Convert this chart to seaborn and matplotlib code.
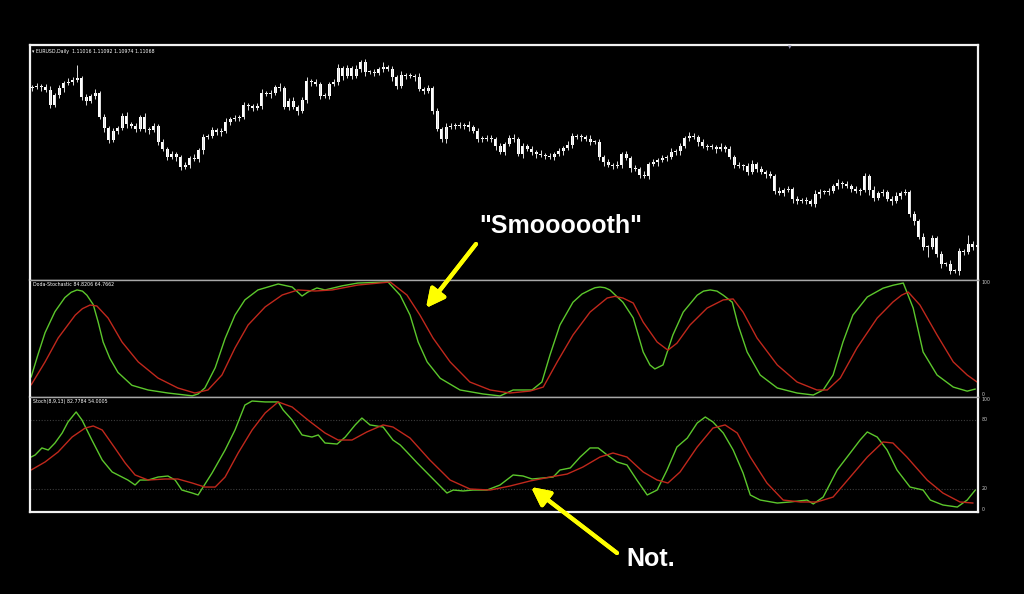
"""
EURUSD daily chart with Doda-Stochastic vs. classic Stochastic panels.
"""
import numpy as np
import pandas as pd
import matplotlib
matplotlib.use("Agg")
import matplotlib.pyplot as plt
import seaborn as sns

# --- price data (daily closes, open = previous close) ---
first_open = 1.1424
closes = [
    1.1426, 1.1428, 1.1426, 1.1420, 1.1390, 1.1410, 1.1424, 1.1434, 1.1436, 1.1440,
    1.1444, 1.1406, 1.1398, 1.1408, 1.1414, 1.1366, 1.1344, 1.1320, 1.1338, 1.1344,
    1.1368, 1.1352, 1.1348, 1.1342, 1.1366, 1.1342, 1.1340, 1.1348, 1.1316, 1.1302,
    1.1286, 1.1292, 1.1286, 1.1266, 1.1270, 1.1284, 1.1282, 1.1300, 1.1326, 1.1328,
    1.1340, 1.1336, 1.1338, 1.1356, 1.1362, 1.1364, 1.1366, 1.1390, 1.1388, 1.1384,
    1.1388, 1.1414, 1.1412, 1.1414, 1.1426, 1.1424, 1.1386, 1.1398, 1.1386, 1.1378,
    1.1400, 1.1438, 1.1436, 1.1432, 1.1408, 1.1408, 1.1432, 1.1436, 1.1464, 1.1448,
    1.1464, 1.1448, 1.1462, 1.1476, 1.1456, 1.1456, 1.1454, 1.1462, 1.1466, 1.1462,
    1.1446, 1.1428, 1.1450, 1.1448, 1.1448, 1.1446, 1.1422, 1.1418, 1.1424, 1.1378,
    1.1342, 1.1322, 1.1346, 1.1348, 1.1350, 1.1348, 1.1350, 1.1346, 1.1338, 1.1322,
    1.1324, 1.1322, 1.1322, 1.1308, 1.1296, 1.1312, 1.1324, 1.1322, 1.1292, 1.1308,
    1.1302, 1.1296, 1.1292, 1.1290, 1.1288, 1.1286, 1.1292, 1.1298, 1.1304, 1.1310,
    1.1328, 1.1326, 1.1326, 1.1322, 1.1316, 1.1316, 1.1286, 1.1276, 1.1270, 1.1268,
    1.1270, 1.1292, 1.1284, 1.1264, 1.1262, 1.1250, 1.1248, 1.1272, 1.1276, 1.1280,
    1.1284, 1.1286, 1.1296, 1.1298, 1.1308, 1.1324, 1.1328, 1.1326, 1.1316, 1.1308,
    1.1306, 1.1306, 1.1302, 1.1306, 1.1302, 1.1286, 1.1270, 1.1268, 1.1268, 1.1256,
    1.1272, 1.1262, 1.1256, 1.1252, 1.1248, 1.1218, 1.1214, 1.1220, 1.1222, 1.1202,
    1.1198, 1.1200, 1.1198, 1.1192, 1.1212, 1.1216, 1.1216, 1.1218, 1.1228, 1.1234,
    1.1232, 1.1228, 1.1222, 1.1218, 1.1220, 1.1248, 1.1220, 1.1204, 1.1214, 1.1216,
    1.1202, 1.1198, 1.1208, 1.1214, 1.1216, 1.1172, 1.1158, 1.1126, 1.1106, 1.1106,
    1.1124, 1.1092, 1.1072, 1.1072, 1.1058, 1.1058, 1.1098, 1.1096, 1.1112, 1.1106,
    1.1110,
]
# wick lengths in pips above / below the body
wick_up = [
    4, 6, 4, 6, 8, 4, 6, 4, 8, 6, 26, 4, 6, 4, 8, 4, 6, 4, 6, 4,
    6, 8, 4, 6, 4, 8, 4, 6, 4, 6, 4, 6, 4, 4, 6, 4, 8, 4, 6, 4,
    6, 4, 6, 8, 4, 6, 4, 6, 4, 4, 6, 8, 4, 6, 4, 8, 4, 6, 8, 4,
    6, 8, 4, 6, 4, 6, 4, 6, 8, 4, 6, 4, 8, 4, 6, 4, 6, 4, 10, 4,
    6, 4, 8, 4, 6, 4, 8, 4, 6, 4, 6, 4, 8, 6, 4, 6, 4, 8, 4, 6,
    4, 6, 8, 4, 6, 4, 6, 8, 4, 6, 4, 6, 4, 8, 4, 6, 4, 6, 4, 8,
    6, 4, 6, 4, 8, 4, 6, 4, 6, 4, 8, 4, 6, 4, 6, 4, 8, 4, 6, 4,
    6, 4, 8, 4, 6, 4, 8, 6, 4, 6, 4, 6, 4, 8, 4, 6, 4, 6, 4, 6,
    8, 4, 6, 4, 6, 4, 8, 4, 6, 4, 6, 4, 6, 4, 8, 6, 4, 6, 4, 8,
    4, 6, 4, 6, 4, 6, 4, 8, 4, 6, 4, 6, 8, 4, 6, 4, 6, 4, 8, 4,
    6, 4, 6, 4, 8, 4, 6, 4, 18, 6, 8,
]
wick_dn = [
    6, 4, 8, 4, 6, 4, 6, 8, 4, 6, 4, 6, 8, 4, 6, 4, 8, 6, 4, 6,
    4, 8, 4, 6, 4, 6, 8, 4, 6, 4, 6, 4, 8, 6, 4, 6, 4, 6, 8, 4,
    4, 6, 8, 4, 6, 4, 6, 4, 8, 6, 4, 6, 4, 8, 4, 6, 4, 6, 4, 8,
    4, 6, 8, 4, 6, 4, 6, 4, 6, 8, 4, 6, 4, 6, 8, 4, 6, 4, 6, 4,
    8, 6, 4, 6, 4, 8, 4, 6, 4, 6, 4, 6, 8, 4, 6, 4, 6, 8, 4, 6,
    6, 4, 6, 8, 4, 6, 4, 6, 4, 8, 4, 6, 8, 4, 6, 4, 6, 4, 8, 4,
    6, 4, 8, 4, 6, 4, 6, 8, 4, 6, 4, 6, 4, 8, 4, 6, 4, 6, 4, 8,
    4, 6, 4, 6, 8, 4, 6, 4, 8, 4, 6, 4, 8, 4, 6, 4, 6, 4, 8, 6,
    4, 6, 4, 8, 4, 6, 4, 6, 4, 8, 6, 4, 6, 4, 6, 8, 4, 6, 4, 6,
    8, 4, 6, 4, 8, 4, 10, 6, 4, 6, 4, 8, 4, 6, 4, 6, 8, 4, 6, 20,
    4, 6, 8, 4, 6, 4, 8, 6, 4, 6, 4,
]

# --- Doda-Stochastic (bar position, value) ---
doda_fast_bar = [
    -0.2, 1.3, 2.9, 5.1, 7.3, 8.7, 10.0, 11.2, 12.2, 13.6, 14.7, 15.8, 17.3, 19.1, 22.2, 25.8,
    30.2, 35.6, 36.9, 38.4, 40.7, 42.9, 45.1, 47.3, 50.2, 54.7, 57.8, 60.0, 61.3, 63.3, 65.1,
    68.9, 72.4, 79.1, 81.8, 84.0, 85.8, 87.8, 90.7, 95.1, 100.2, 104.0, 106.9, 111.1, 113.3,
    115.1, 117.3, 120.2, 122.2, 124.0, 125.1, 126.2, 127.3, 128.4, 131.3, 133.6, 135.8, 137.3,
    138.4, 140.2, 142.4, 144.7, 147.8, 149.2, 150.7, 152.2, 153.6, 155.6, 156.9, 158.9, 161.8,
    165.6, 170.0, 173.6, 175.8, 178.0, 180.2, 182.4, 185.6, 189.1, 191.3, 193.6, 195.8, 198.0,
    201.1, 204.7, 207.8, 209.6,
]
doda_fast = [
    17, 36, 55, 73, 85, 89.5, 91.5, 90.5, 87, 79, 64, 47, 33, 21, 10, 6,
    3.4, 1, 2.6, 7.7, 25, 50, 70, 83, 91.5, 96.6, 94, 86.3, 89.7, 93.2, 91.5,
    95, 97.4, 98.3, 87, 70, 47, 30, 16, 6, 2.6, 0.9, 6, 6, 12.8,
    36, 61.5, 81, 88, 91.5, 93.4, 94, 93.4, 91.5, 81, 67.5, 38.5, 27.4,
    24, 27.4, 53, 72.6, 87, 90.5, 91.5, 90.5, 87, 81, 61.5, 38.5, 18.8,
    7.7, 3.4, 1.7, 6, 18.8, 47, 70, 85.5, 93, 95.5, 97.4, 76, 38.5,
    18.8, 8.5, 5, 6.8,
]
doda_slow_bar = [
    -0.2, 2.9, 5.8, 9.6, 11.2, 12.9, 14.4, 16.9, 20.0, 23.6, 28.0, 32.4, 36.2, 39.1, 42.2, 45.1,
    48.0, 51.8, 55.6, 59.1, 62.9, 66.7, 72.4, 79.6, 83.3, 86.2, 89.1, 92.9, 97.3, 101.8, 106.2,
    110.7, 113.6, 116.7, 120.2, 124.0, 127.8, 129.5, 131.3, 133.6, 135.8, 138.9, 141.3, 143.3,
    146.2, 150.0, 153.6, 155.8, 158.0, 161.1, 165.6, 170.0, 174.4, 176.7, 179.6, 183.3, 187.8,
    191.3, 193.2, 194.7, 197.3, 201.1, 204.7, 207.8, 210.0,
]
doda_slow = [
    10.3, 30, 50.4, 70, 75.5, 78.6, 77.8, 67.5, 47, 30, 16.2, 7.7, 3.4, 6, 18.8, 41.9,
    61.5, 77, 87.2, 91.5, 90.6, 91.5, 95.7, 98.3, 87.2, 70, 50.4, 30, 12.8, 6, 3.4,
    5.1, 8.5, 30, 53, 72.6, 84.6, 86, 84.6, 80.3, 64, 47, 40, 46,
    61.5, 76, 83, 83.8, 72.6, 50.4, 27.4, 12.8, 6, 6, 16.2, 41.9, 67.5,
    81.2, 87, 89.7, 78.6, 53, 30, 18.8, 12.8,
]

# --- Stoch(8,9,13) (bar position, value) ---
stoch_main_bar = [
    -0.2, 0.7, 2.2, 3.6, 5.1, 6.7, 8.0, 9.8, 11.1, 13.3, 15.6, 17.8, 20.0, 21.3, 22.9, 24.0,
    25.8, 28.0, 30.2, 31.8, 33.3, 35.6, 36.9, 40.0, 42.9, 45.1, 47.3, 48.9, 51.8, 54.7, 55.8,
    57.8, 60.0, 62.2, 63.6, 65.1, 67.8, 69.6, 71.8, 73.3, 75.1, 78.0, 80.2, 81.8, 83.3, 85.6,
    87.8, 90.0, 92.2, 93.6, 95.8, 98.0, 101.1, 104.0, 106.9, 109.1, 111.1, 113.6, 115.8, 117.3,
    119.6, 121.8, 124.0, 125.8, 127.8, 130.0, 132.2, 134.4, 136.7, 138.9, 141.1, 143.3, 145.6,
    147.8, 149.6, 151.3, 153.6, 155.8, 158.0, 159.6, 161.8, 165.6, 168.4, 172.2, 173.6, 175.8,
    178.9, 181.8, 184.0, 185.6, 187.8, 190.0, 192.2, 195.1, 198.0, 199.6, 202.4, 205.6, 207.8,
    209.6,
]
stoch_main = [
    47.8, 49.6, 55.7, 53.9, 60, 68.7, 78.3, 87, 80, 62.6, 45.2, 34.8, 30.4, 27.8, 23.5, 27.8,
    27.8, 30.4, 31.3, 27.8, 19.1, 16.5, 14.8, 33.9, 53.9, 71.3, 93, 96.5, 95.7, 95.7, 88.7,
    80, 67, 65.2, 67, 60, 59.1, 65.2, 75.7, 81.7, 75.7, 73.9, 62.6, 58.3, 52.2, 42.6,
    33.9, 25.2, 16.5, 19.1, 18.3, 19.1, 19.1, 23.5, 32.2, 31.3, 28.7, 29.6, 30.4, 36.5,
    38.3, 47.8, 55.7, 55.7, 49.6, 43.5, 40.9, 27.8, 14.8, 19.1, 36.5, 56.5, 64.3,
    77.4, 82.6, 78.3, 68.7, 53.9, 33.9, 14.8, 10.4, 7.8, 8.7, 10.4, 7, 13,
    36.5, 51.3, 62.6, 69.6, 65.2, 53.9, 36.5, 21.7, 19.1, 10.4, 6.1, 4.3, 10.4,
    19.1,
]
stoch_signal_bar = [
    -0.2, 2.9, 5.8, 8.9, 11.8, 13.6, 15.6, 18.4, 20.7, 22.9, 25.8, 29.6, 32.4, 35.6, 38.4, 40.7,
    42.9, 45.8, 48.9, 51.8, 54.7, 57.8, 61.3, 65.1, 68.0, 71.1, 74.4, 78.0, 80.2, 84.0, 88.4,
    92.9, 97.3, 101.8, 106.2, 110.7, 115.1, 118.9, 122.4, 126.2, 129.1, 132.2, 135.8, 138.9,
    141.3, 144.0, 147.8, 151.3, 154.0, 156.7, 159.6, 163.3, 166.9, 170.7, 174.4, 178.0, 181.8,
    185.6, 189.1, 191.3, 194.4, 198.9, 202.4, 206.2, 209.1,
]
stoch_signal = [
    36.5, 43.5, 52.2, 65.2, 73, 74.8, 71.3, 55.7, 42.6, 32.2, 27.8, 28.7, 28.7, 25.2, 21.7, 21.7,
    30.4, 51.3, 71.3, 86.1, 95.7, 91.3, 80, 68.7, 62.6, 62.6, 69.6, 75.7, 73.9, 64.3, 45.2,
    27.8, 20, 19.1, 22.6, 27, 30.4, 33, 39.1, 47.8, 51.3, 47.8, 34.8, 27.8,
    25.2, 34.8, 56.5, 73, 75.7, 68.7, 47.8, 25.2, 10.4, 8.7, 8.7, 13, 30.4,
    47.8, 60.9, 60, 47.8, 27.8, 16.5, 8.7, 7.8,
]
stoch_levels = [20, 80]

header = "\u25be EURUSD,Daily  1.11016 1.11092 1.10974 1.11068"
doda_label = "Doda-Stochastic 84.8206 64.7662"
stoch_label = "Stoch(8,9,13) 82.7784 54.0005"

GREEN = "#5cc72c"
RED = "#c0281c"
YELLOW = "#ffff00"
FRAME = "#f2f2f2"
SEP = "#a8a8a8"
LABEL = "#c8c8c8"


def fx(px):
    return px / 1024


def fy(py):
    return 1 - py / 594


sns.set_style("dark", {"axes.facecolor": "black", "figure.facecolor": "black"})
plt.rcParams["font.family"] = ["DejaVu Sans"]

fig = plt.figure(figsize=(10.24, 5.94), dpi=100)
fig.patch.set_facecolor("black")

left, width = fx(30), 948 / 1024
ax_p = fig.add_axes([left, fy(280), width, 235 / 594])
ax_d = fig.add_axes([left, fy(397), width, 117 / 594], sharex=ax_p)
ax_s = fig.add_axes([left, fy(512), width, 115 / 594], sharex=ax_p)

# --- candles ---
df = pd.DataFrame({"open": [first_open] + closes[:-1], "close": closes})
df["bar"] = np.arange(len(df))
body_top = df[["open", "close"]].max(axis=1)
body_bot = df[["open", "close"]].min(axis=1)
df["high"] = body_top + np.array(wick_up) / 1e4
df["low"] = body_bot - np.array(wick_dn) / 1e4
body_h = (body_top - body_bot).clip(lower=0.00025)

ax_p.vlines(df["bar"], df["low"], df["high"], color="#dcdcdc", lw=0.7)
ax_p.bar(df["bar"], body_h, bottom=body_bot, width=0.66, color="white", lw=0)
ax_p.set_ylim(1.104, 1.151)

# --- oscillators ---
sns.lineplot(x=doda_fast_bar, y=doda_fast, ax=ax_d, color=GREEN, lw=1.0, estimator=None)
sns.lineplot(x=doda_slow_bar, y=doda_slow, ax=ax_d, color=RED, lw=1.0, estimator=None)
ax_d.set_ylim(0, 100)

for lvl in stoch_levels:
    ax_s.axhline(lvl, color="#3c3c3c", lw=0.8, ls=(0, (1, 1.5)))
sns.lineplot(x=stoch_main_bar, y=stoch_main, ax=ax_s, color=GREEN, lw=1.0, estimator=None)
sns.lineplot(x=stoch_signal_bar, y=stoch_signal, ax=ax_s, color=RED, lw=1.0, estimator=None)
ax_s.set_ylim(0, 100)

ax_p.set_xlim(-0.45, 210.2)

for ax in (ax_p, ax_d, ax_s):
    ax.set_facecolor("black")
    ax.set_xticks([])
    ax.set_yticks([])
    ax.set_xlabel("")
    ax.set_ylabel("")
    ax.grid(False)
    for side in ("left", "right"):
        ax.spines[side].set_color(FRAME)
        ax.spines[side].set_linewidth(1.6)
    for side in ("top", "bottom"):
        ax.spines[side].set_color(SEP)
        ax.spines[side].set_linewidth(1.0)
ax_p.spines["top"].set_color(FRAME)
ax_p.spines["top"].set_linewidth(1.6)
ax_s.spines["bottom"].set_color(FRAME)
ax_s.spines["bottom"].set_linewidth(1.6)

# --- right-hand scale labels ---
small = dict(color=LABEL, fontsize=3.4, ha="left")
for ax, ticks in ((ax_d, [0, 100]), (ax_s, [0, 20, 80, 100])):
    trans = ax.get_yaxis_transform()
    for t in ticks:
        va = "top" if t == 100 else ("bottom" if t == 0 else "center")
        ax.text(1.004, t, str(t), transform=trans, va=va, **small)

# --- panel captions ---
fig.text(fx(32), fy(51.5), header, color="white", fontsize=3.4, va="center")
fig.text(fx(33), fy(285), doda_label, color="white", fontsize=3.4, va="center")
fig.text(fx(33), fy(402), stoch_label, color="white", fontsize=3.4, va="center")
fig.text(fx(790), fy(47.5), "\u25be", color="#8a8aa8", fontsize=5, ha="center", va="center")

# --- annotations ---
fig.text(fx(561), fy(226), '"Smoooooth"', color="white", fontsize=18,
         fontweight="bold", family=["Liberation Sans", "DejaVu Sans"],
         ha="center", va="center")
fig.text(fx(651), fy(559), "Not.", color="white", fontsize=18,
         fontweight="bold", family=["Liberation Sans", "DejaVu Sans"],
         ha="center", va="center")

arrow = dict(arrowstyle="-|>,head_length=1.0,head_width=0.5", color=YELLOW,
             lw=3.0, mutation_scale=11, shrinkA=0, shrinkB=0)
fig.add_artist(plt.annotate("", xy=(fx(426), fy(308)), xytext=(fx(476), fy(244)),
                            xycoords="figure fraction", textcoords="figure fraction",
                            arrowprops=arrow))
fig.add_artist(plt.annotate("", xy=(fx(531), fy(487)), xytext=(fx(617), fy(553)),
                            xycoords="figure fraction", textcoords="figure fraction",
                            arrowprops=arrow))

plt.savefig("out.png", dpi=100, facecolor="black")
